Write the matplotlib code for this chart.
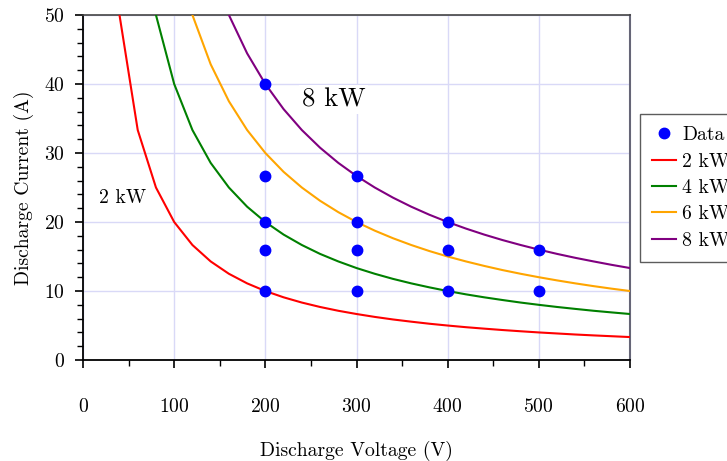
import numpy as np
import matplotlib
matplotlib.use("Agg")
import matplotlib.pyplot as plt
from matplotlib.ticker import MultipleLocator

plt.rcParams['font.family'] = 'cmr10'
plt.rcParams['axes.formatter.use_mathtext'] = True
plt.rcParams['mathtext.fontset'] = 'cm'

nan = np.nan

# Voltage grid for the constant-power curves (V)
voltage = [40, 60, 80, 100, 120, 140, 160, 180, 200, 220, 240, 260, 280, 300,
           320, 340, 360, 380, 400, 420, 440, 460, 480, 500, 520, 540, 560,
           580, 600]

# Current along each constant-power curve (A)
curve_2kw = [50, 33.33, 25, 20, 16.67, 14.29, 12.5, 11.11, 10, 9.09, 8.33,
             7.69, 7.14, 6.67, 6.25, 5.88, 5.56, 5.26, 5, 4.76, 4.55, 4.35,
             4.17, 4, 3.85, 3.70, 3.57, 3.45, 3.33]
curve_4kw = [nan, nan, 50, 40, 33.33, 28.57, 25, 22.22, 20, 18.18, 16.67,
             15.38, 14.29, 13.33, 12.5, 11.76, 11.11, 10.53, 10, 9.52, 9.09,
             8.70, 8.33, 8, 7.69, 7.41, 7.14, 6.90, 6.67]
curve_6kw = [nan, nan, nan, nan, 50, 42.86, 37.5, 33.33, 30, 27.27, 25,
             23.08, 21.43, 20, 18.75, 17.65, 16.67, 15.79, 15, 14.29, 13.64,
             13.04, 12.5, 12, 11.54, 11.11, 10.71, 10.34, 10]
curve_8kw = [nan, nan, nan, nan, nan, nan, 50, 44.44, 40, 36.36, 33.33,
             30.77, 28.57, 26.67, 25, 23.53, 22.22, 21.05, 20, 19.05, 18.18,
             17.39, 16.67, 16, 15.38, 14.81, 14.29, 13.79, 13.33]

curve_labels = ['2 kW', '4 kW', '6 kW', '8 kW']
curve_colors = ['#ff0000', '#008000', '#ffa500', '#800080']

# Measured operating points
data_v = [200, 200, 200, 200, 200, 300, 300, 300, 300, 400, 400, 400, 500, 500]
data_i = [40, 26.67, 20, 16, 10, 26.67, 20, 16, 10, 20, 16, 10, 16, 10]

fig = plt.figure(figsize=(7.27, 4.61), dpi=100)
ax = fig.add_axes([0.1142, 0.219, 0.7524, 0.7485])

ax.grid(True, which='major', color='#d9d9f7', linewidth=1.0, zorder=0)
ax.set_axisbelow(True)

ax.plot(data_v, data_i, 'o', color='#0000ff', markersize=7.5,
        linestyle='none', label='Data', zorder=5)
for series, lab, col in zip([curve_2kw, curve_4kw, curve_6kw, curve_8kw],
                            curve_labels, curve_colors):
    ax.plot(voltage, series, color=col, linewidth=1.5, label=lab, zorder=3)

ax.set_xlim(0, 600)
ax.set_ylim(0, 50)
ax.xaxis.set_major_locator(MultipleLocator(100))
ax.xaxis.set_minor_locator(MultipleLocator(50))
ax.yaxis.set_major_locator(MultipleLocator(10))
ax.yaxis.set_minor_locator(MultipleLocator(2))

ax.tick_params(axis='both', which='major', direction='out', length=6,
               width=1.2, labelsize=14.2, top=False, right=False)
ax.tick_params(axis='both', which='minor', direction='out', length=4,
               width=1.0, top=False, right=False)
ax.tick_params(axis='x', which='major', pad=21.5)
ax.tick_params(axis='y', which='major', pad=7)

for side in ['left', 'bottom']:
    ax.spines[side].set_color('black')
    ax.spines[side].set_linewidth(1.3)
ax.spines['top'].set_color('#444444')
ax.spines['right'].set_color('#666677')
ax.spines['top'].set_linewidth(1.2)
ax.spines['right'].set_linewidth(1.5)

ax.set_xlabel('Discharge Voltage (V)', fontsize=14.2, labelpad=18)
ax.set_ylabel('Discharge Current (A)', fontsize=14.2, labelpad=7.5)

ax.text(18, 23.5, '2 kW', fontsize=14.2, ha='left', va='center', zorder=6)
ax.text(240, 37.8, '8 kW', fontsize=19.2, ha='left', va='center', zorder=6,
        bbox=dict(facecolor='white', edgecolor='none', pad=2))

leg = ax.legend(loc='upper left', bbox_to_anchor=(1.018, 0.713),
                fontsize=14.2, frameon=True, fancybox=False, edgecolor='#333333',
                handlelength=1.22, handletextpad=0.3, borderpad=0.62,
                labelspacing=0.43, borderaxespad=0)
leg.get_frame().set_linewidth(1.0)

fig.savefig('out.png', dpi=100)
